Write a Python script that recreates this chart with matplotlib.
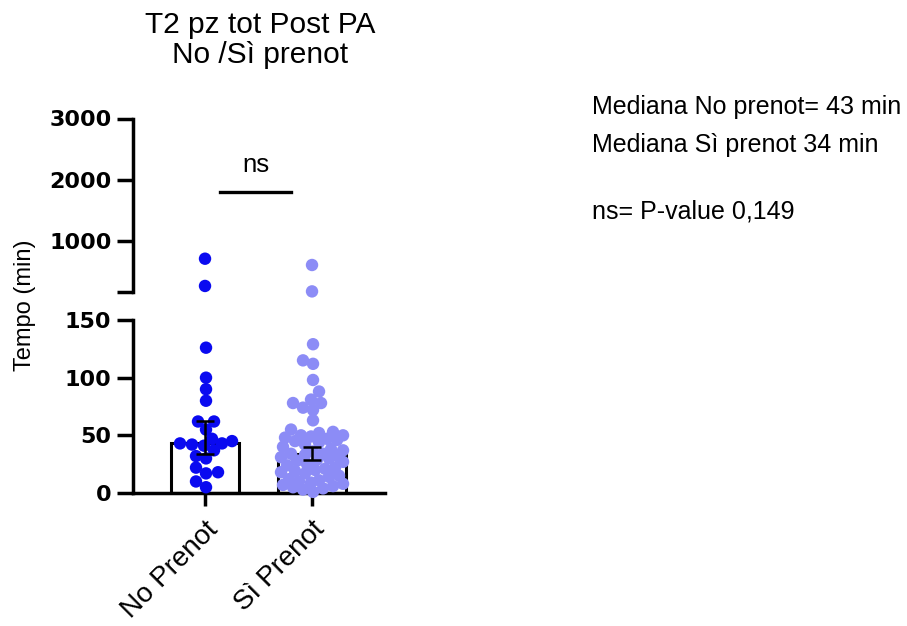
import numpy as np
import matplotlib
matplotlib.use("Agg")
import matplotlib.pyplot as plt

plt.rcParams['font.family'] = ['Liberation Sans', 'DejaVu Sans']

# data (minutes)
groups = ["No Prenot", "Sì Prenot"]
no_prenot = [705, 259, 126, 100, 90, 80, 62, 62, 55, 47, 45, 43, 43, 42, 41,
             37, 32, 30, 22, 18, 17, 10, 5]
si_prenot = [602, 170, 129, 115, 112, 98, 88, 81, 78, 78, 74, 72, 63, 55, 53,
             52, 50, 50, 49, 48, 47, 46, 45, 44, 42, 40, 38, 37, 36, 34, 34,
             33, 32, 31, 30, 29, 28, 27, 25, 24, 22, 21, 20, 19, 18, 17, 15,
             14, 12, 11, 10, 9, 8, 7, 6, 5, 4, 3, 1]
medians = [43, 34]
ci_low = [34, 29]
ci_high = [62, 40]
colors = ["#0a0af0", "#8c8cf6"]

top_ticks = [1000, 2000, 3000]
bottom_ticks = [0, 50, 100, 150]
notes = ["Mediana No prenot= 43 min", "Mediana Sì prenot 34 min", "ns= P-value 0,149"]

W, H = 907, 626
fig = plt.figure(figsize=(W / 100, H / 100), dpi=100)

def px_axes(x0, x1, ytop, ybot):
    return fig.add_axes([x0 / W, 1 - ybot / H, (x1 - x0) / W, (ybot - ytop) / H])

ax_top = px_axes(133, 385, 118.5, 292)
ax_bot = px_axes(133, 385, 320, 493)

xlim = (-0.673, 1.682)
lw = 2.5
for ax in (ax_top, ax_bot):
    ax.set_xlim(*xlim)
    for s in ("top", "right"):
        ax.spines[s].set_visible(False)
    ax.spines["left"].set_linewidth(lw)
    ax.spines["bottom"].set_linewidth(lw)
    ax.tick_params(axis="y", width=lw, length=11.5, pad=4)
    ax.tick_params(axis="x", width=lw, length=9, pad=8)

ax_top.set_ylim(160, 3000)
ax_bot.set_ylim(0, 150)
ax_top.spines["bottom"].set_visible(False)
ax_top.set_xticks([])
ax_top.set_yticks([160] + top_ticks)
ax_top.set_yticklabels([""] + [str(v) for v in top_ticks])
ax_bot.set_yticks(bottom_ticks)
ax_bot.set_yticklabels([str(v) for v in bottom_ticks])
for ax in (ax_top, ax_bot):
    for t in ax.get_yticklabels():
        t.set_fontfamily("DejaVu Sans")
        t.set_fontweight("bold")
        t.set_fontsize(16)

ax_bot.set_xticks([0, 1])
ax_bot.set_xticklabels(groups, rotation=45, ha="right", rotation_mode="anchor",
                       fontsize=20)

# bars (median) + CI
ax_bot.bar([0, 1], medians, width=0.63, facecolor="white", edgecolor="black",
           linewidth=2.2, zorder=2)


def swarm(vals, ax, center, diam=12.0, min_frac=0.85, half=31.0):
    # deterministic beeswarm in pixel space, kept within +-half px
    order = np.argsort(vals)
    placed = []
    xs = np.zeros(len(vals))
    cx = ax.transData.transform((center, 0))[0]
    cands = sorted(np.arange(-half, half + 0.1, 2.0), key=lambda o: (abs(o), -o))
    for i in order:
        py = ax.transData.transform((center, vals[i]))[1]
        best, best_d = None, -1
        for off in cands:
            d = min([np.hypot(off - qx, py - qy) for qx, qy in placed] + [1e9])
            if d >= diam * min_frac:
                best = off
                break
            if d > best_d:
                best_d, best_alt = d, off
        if best is None:
            best = best_alt
        placed.append((best, py))
        xs[i] = ax.transData.inverted().transform((cx + best, py))[0]
    return xs


for gi, vals in enumerate([no_prenot, si_prenot]):
    vals = np.array(vals, dtype=float)
    low = vals[vals <= 150]
    high = vals[vals > 150]
    xl = swarm(low, ax_bot, gi)
    ax_bot.scatter(xl, low, s=80, color=colors[gi], edgecolors="none",
                   zorder=3, clip_on=False)
    ax_top.scatter(np.full(len(high), gi), high, s=80, color=colors[gi],
                   edgecolors="none", zorder=3, clip_on=False)
    ax_bot.errorbar(gi, medians[gi],
                    yerr=[[medians[gi] - ci_low[gi]], [ci_high[gi] - medians[gi]]],
                    fmt="none", ecolor="black", elinewidth=1.8, capsize=6.5,
                    capthick=1.8, zorder=4)

# significance mark
ax_top.plot([0.14, 0.80], [1800, 1800], color="black", lw=2.4, clip_on=False)
ax_top.text(0.48, 2240, "ns", ha="center", va="center", fontsize=18.5)

fig.text(25 / W, 1 - 305 / H, "Tempo (min)", rotation=90, ha="center",
         va="center", fontsize=17)

fig.text(260 / W, 1 - 40 / H, "T2 pz tot Post PA\nNo /Sì prenot", ha="center",
         va="center", fontsize=21.5, linespacing=1.1)

for txt, y in zip(notes, [107, 145, 212]):
    fig.text(592 / W, 1 - y / H, txt, ha="left", va="center", fontsize=18)

fig.savefig("out.png", dpi=100)
